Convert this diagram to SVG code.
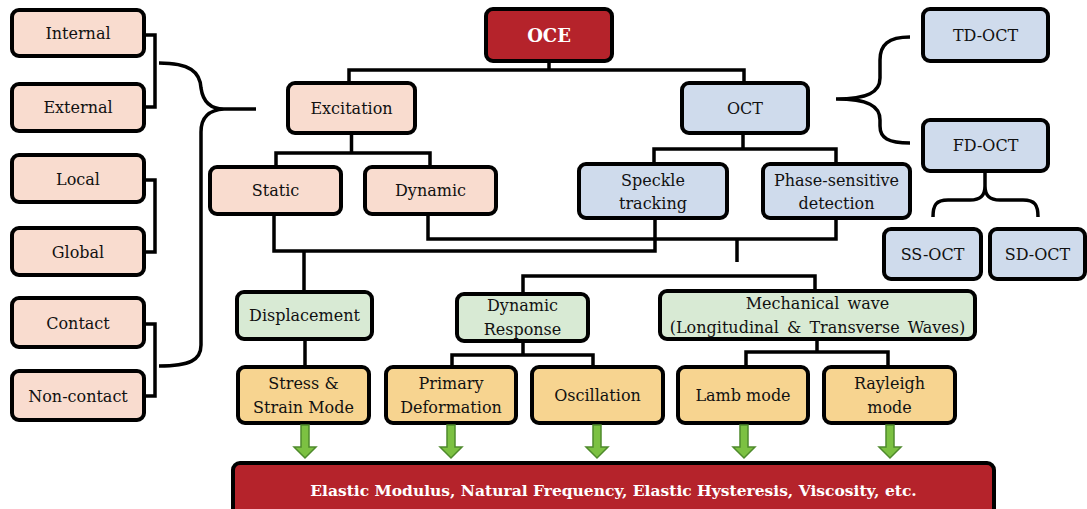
<svg xmlns="http://www.w3.org/2000/svg" width="1087" height="509" viewBox="0 0 1087 509">
<style>
.box{stroke:#000;stroke-width:4;}
.pk{fill:#f9dccf;}
.bl{fill:#cfdbec;}
.gr{fill:#d8ead4;}
.yl{fill:#f7d490;}
.rd{fill:#b5232b;}
text{font-family:'DejaVu Serif',serif;font-size:16px;fill:#111;text-anchor:middle;}
.w{fill:#fff;font-weight:bold;}
.con path{fill:none;stroke:#000;stroke-width:3.5;}
.arr{fill:#7cc142;stroke:#4f8a2c;stroke-width:1.5;}
</style>
<defs>
<path id="ga" d="M-4,0 H4 V22 H11 L0,33 L-11,22 H-4 Z"/>
</defs>
<rect width="1087" height="509" fill="#fff"/>

<g class="con">
<path d="M144,35 H155 V107 H144"/>
<path d="M144,180 H155 V252 H144"/>
<path d="M144,324 H155 V396 H144"/>
<path d="M159,63 C190,63 200,72 201,88 C203,102 210,109 224,109 L256,109 M224,109 C210,110 201,116 201,132 L201,345 C201,360 190,366 159,366"/>
<path d="M349,83 V70 H744 V83 M549,61 V70"/>
<path d="M351.5,133 V153 M276,167 V153 H430 V167"/>
<path d="M743,133 V149 M654,164 V149 H836 V164"/>
<path d="M910,37 C888,37 880,45 880,60 L880,78 C880,92 868,99 836,99 C868,99 880,106 880,120 L880,126 C880,138 888,143 910,143"/>
<path d="M933,217 C933,205 936,200 948,200 L970,200 C980,200 985,196 985,186 L985,171 M1038,217 C1038,205 1035,200 1023,200 L1000,200 C990,200 985,196 985,186"/>
<path d="M274,214 V251 H655 V218 M304,251 V292"/>
<path d="M428,214 V239 H836 V218 M737,239 V262"/>
<path d="M523,294 V276 H815 V291"/>
<path d="M305,339 V367"/>
<path d="M523,341 V355 M452,367 V355 H593 V367"/>
<path d="M817,339 V352 M746,367 V352 H888 V367"/>
</g>

<g id="internal"><rect class="box pk" x="12" y="10" width="132" height="46" rx="7"/><text x="78" y="39">Internal</text></g>
<g id="external"><rect class="box pk" x="12" y="84" width="132" height="47" rx="7"/><text x="78" y="113">External</text></g>
<g id="local"><rect class="box pk" x="12" y="155" width="132" height="47" rx="7"/><text x="78" y="185">Local</text></g>
<g id="global"><rect class="box pk" x="12" y="228" width="132" height="47" rx="7"/><text x="78" y="258">Global</text></g>
<g id="contact"><rect class="box pk" x="12" y="298" width="132" height="49" rx="7"/><text x="78" y="329">Contact</text></g>
<g id="noncontact"><rect class="box pk" x="12" y="371" width="132" height="49" rx="7"/><text x="78" y="402">Non-contact</text></g>

<g id="oce"><rect class="box rd" x="486" y="9" width="126" height="52" rx="7"/><text class="w" x="549" y="42" style="font-size:18px">OCE</text></g>
<g id="excitation"><rect class="box pk" x="288" y="83" width="127" height="50" rx="7"/><text x="351.5" y="114">Excitation</text></g>
<g id="oct"><rect class="box bl" x="682" y="83" width="126" height="50" rx="7"/><text x="745" y="114">OCT</text></g>
<g id="static"><rect class="box pk" x="210" y="167" width="131" height="47" rx="7"/><text x="275.5" y="196">Static</text></g>
<g id="dynamic"><rect class="box pk" x="365" y="167" width="131" height="47" rx="7"/><text x="430.5" y="196">Dynamic</text></g>
<g id="speckle"><rect class="box bl" x="579" y="164" width="148" height="54" rx="7"/><text x="653" y="186">Speckle</text><text x="653" y="209">tracking</text></g>
<g id="phase"><rect class="box bl" x="763" y="164" width="147" height="54" rx="7"/><text x="836.5" y="186">Phase-sensitive</text><text x="836.5" y="209">detection</text></g>
<g id="tdoct"><rect class="box bl" x="923" y="9" width="125" height="52" rx="7"/><text x="985.5" y="41">TD-OCT</text></g>
<g id="fdoct"><rect class="box bl" x="923" y="120" width="125" height="51" rx="7"/><text x="985.5" y="151">FD-OCT</text></g>
<g id="ssoct"><rect class="box bl" x="884" y="229" width="97" height="50" rx="7"/><text x="932.5" y="260">SS-OCT</text></g>
<g id="sdoct"><rect class="box bl" x="990" y="229" width="95" height="50" rx="7"/><text x="1037.5" y="260">SD-OCT</text></g>

<g id="displacement"><rect class="box gr" x="237" y="292" width="135" height="47" rx="7"/><text x="304.5" y="321">Displacement</text></g>
<g id="dynresp"><rect class="box gr" x="457" y="294" width="131" height="47" rx="7"/><text x="522.5" y="311">Dynamic</text><text x="522.5" y="335">Response</text></g>
<g id="mechwave"><rect class="box gr" x="660" y="291" width="315" height="48" rx="7"/><text x="817.5" y="309" style="word-spacing:3px">Mechanical wave</text><text x="817.5" y="333" style="word-spacing:3px">(Longitudinal &amp; Transverse Waves)</text></g>

<g id="stress"><rect class="box yl" x="238" y="367" width="131" height="56" rx="7"/><text x="303.5" y="389">Stress &amp;</text><text x="303.5" y="413">Strain Mode</text></g>
<g id="primary"><rect class="box yl" x="386" y="367" width="130" height="56" rx="7"/><text x="451" y="389">Primary</text><text x="451" y="413">Deformation</text></g>
<g id="oscillation"><rect class="box yl" x="532" y="367" width="131" height="56" rx="7"/><text x="597.5" y="401">Oscillation</text></g>
<g id="lamb"><rect class="box yl" x="678" y="367" width="130" height="56" rx="7"/><text x="743" y="401">Lamb mode</text></g>
<g id="rayleigh"><rect class="box yl" x="824" y="367" width="131" height="56" rx="7"/><text x="889.5" y="389">Rayleigh</text><text x="889.5" y="413">mode</text></g>

<g id="arrows">
<use href="#ga" class="arr" x="305" y="425"/>
<use href="#ga" class="arr" x="451" y="425"/>
<use href="#ga" class="arr" x="597" y="425"/>
<use href="#ga" class="arr" x="744" y="425"/>
<use href="#ga" class="arr" x="890" y="425"/>
</g>

<g id="result"><rect class="box rd" x="233" y="463" width="761" height="56" rx="7"/><text class="w" x="613.5" y="496" style="font-size:15.5px">Elastic Modulus, Natural Frequency, Elastic Hysteresis, Viscosity, etc.</text></g>
</svg>
